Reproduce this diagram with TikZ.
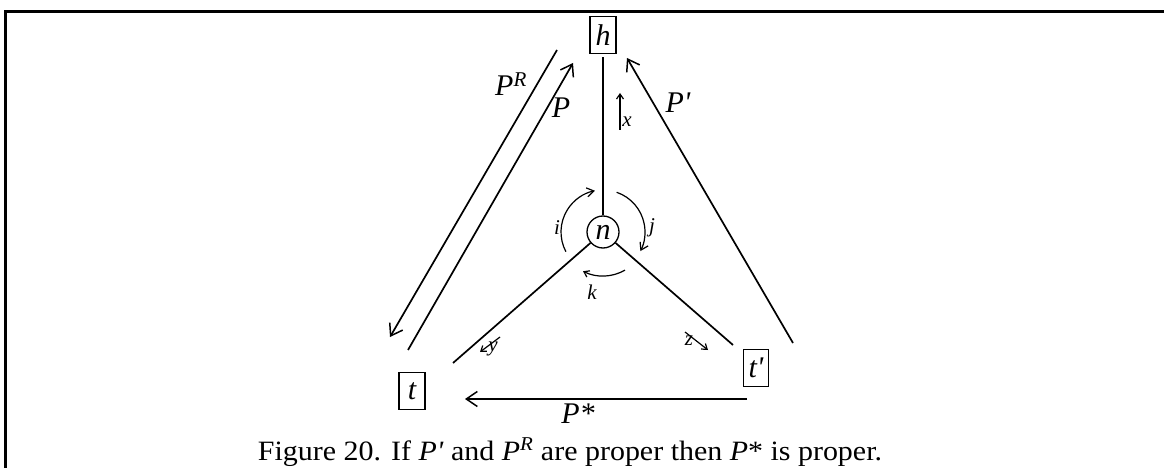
\documentclass[tikz,border=0pt]{standalone}
\usepackage{fontspec}
\setmainfont{Liberation Serif}
\usetikzlibrary{arrows.meta}
\begin{document}
\begin{tikzpicture}[x=1pt,y=-1pt,
  conn/.style={line width=1.7pt},
  bigarrow/.style={line width=1.7pt,-{Straight Barb[length=11pt,width=15pt,line width=1.5pt]}},
  smallarrow/.style={line width=1.2pt,-{Straight Barb[length=7pt,width=9pt,line width=1.2pt]}},
  tinyarrow/.style={line width=1.2pt,-{Straight Barb[length=5pt,width=7pt,line width=1.2pt]}},
  box/.style={draw,line width=1.3pt,inner sep=0pt,minimum width=26pt,minimum height=37pt,font=\fontsize{30}{30}\selectfont\itshape},
  circ/.style={draw,circle,line width=1.3pt,inner sep=0pt,minimum size=32pt,font=\fontsize{30}{30}\selectfont\itshape},
  biglabel/.style={font=\fontsize{30}{30}\selectfont\itshape,inner sep=0pt},
  smalllabel/.style={font=\fontsize{21}{21}\selectfont\itshape,inner sep=0pt},
]
\useasboundingbox (0,0) rectangle (1164,468);
% frame
\draw[line width=3pt] (5.5,468) -- (5.5,11.5) -- (1164,11.5);
% nodes
\node[box] (h) at (603,35) {h};
\node[box] (t) at (412,391) {t};
\node[box,minimum width=25pt] (tp) at (756,368) {t\textquotesingle};
\node[circ] (n) at (603,232) {n};
% spokes
\draw[conn,shorten <=3pt] (h) -- (n);
\coordinate (tend) at (453,363);
\coordinate (tpend) at (733,345);
\draw[conn] (n) -- (tend);
\draw[conn] (n) -- (tpend);
% big paths
\coordinate (prs) at (557,50);
\coordinate (pre) at (390,337);
\draw[bigarrow] (prs) -- (pre);
\coordinate (ps) at (408,350);
\coordinate (pe) at (573,63);
\draw[bigarrow] (ps) -- (pe);
\coordinate (pps) at (793,343);
\coordinate (ppe) at (627,58);
\draw[bigarrow] (pps) -- (ppe);
\coordinate (pss) at (747,399);
\coordinate (pse) at (465,399);
\draw[bigarrow] (pss) -- (pse);
% labels of paths
\node[biglabel] (lPR) at (511,84) {P\textsuperscript{R}};
\node[biglabel] (lP) at (561,108) {P};
\node[biglabel] (lPp) at (678,103) {P\textquotesingle};
\node[biglabel] (lPs) at (578,414) {P*};
% small arrows
\coordinate (xs) at (620,130);
\coordinate (xe) at (620,93);
\draw[tinyarrow] (xs) -- (xe);
\node[smalllabel] (lx) at (627,122) {x};
\coordinate (ys) at (500,337);
\coordinate (ye) at (480,352);
\draw[tinyarrow] (ys) -- (ye);
\node[smalllabel] (ly) at (493,349) {y};
\coordinate (zs) at (685,332);
\coordinate (ze) at (708,350);
\draw[tinyarrow] (zs) -- (ze);
\node[smalllabel] (lz) at (689,341) {z};
% arcs around n
\draw[smallarrow] (n.center) ++(152:42) arc[start angle=152,end angle=259,radius=42];
\draw[smallarrow] (n.center) ++(-71:42) arc[start angle=-71,end angle=27,radius=42];
\draw[tinyarrow] (n.center) ++(60:44) arc[start angle=60,end angle=117,radius=44];
\node[smalllabel] (li) at (557,228) {i};
\node[smalllabel] (lj) at (652,228) {j};
\node[smalllabel] (lk) at (592,292) {k};
% caption
\node[font=\fontsize{28}{28}\selectfont,anchor=base,inner sep=0pt] (cap) at (570,460)
  {\scalebox{1.07}[1]{Figure 20. If \textit{P\textquotesingle} and \textit{P}\textsuperscript{\textit{R}} are proper then \textit{P}* is proper.}};
\end{tikzpicture}
\end{document}
